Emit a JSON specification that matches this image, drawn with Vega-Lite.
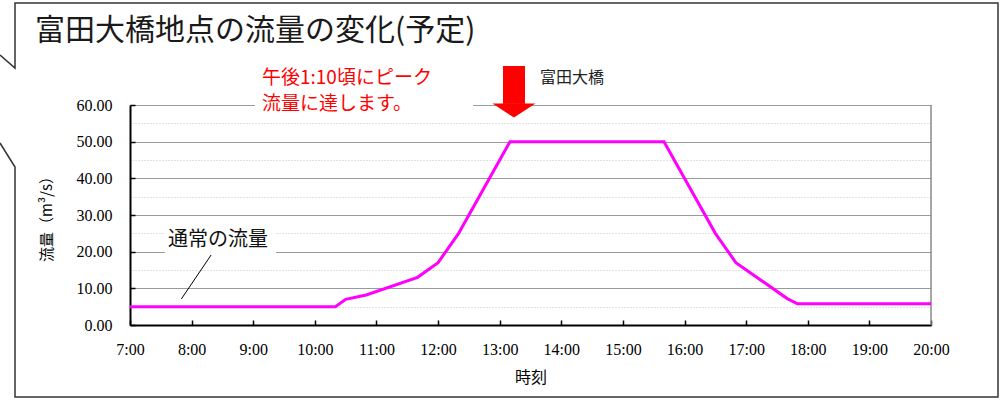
{
  "$schema": "https://vega.github.io/schema/vega-lite/v6.json",
  "width": 801,
  "height": 220,
  "autosize": {"type": "none"},
  "padding": {"left": 130, "top": 105, "right": 69, "bottom": 80},
  "background": "white",
  "datasets": {
    "flow": [
      {"hour": 7.0, "value": 5.0},
      {"hour": 10.3333, "value": 5.0},
      {"hour": 10.5, "value": 7.0},
      {"hour": 10.8333, "value": 8.2},
      {"hour": 11.6667, "value": 13.0},
      {"hour": 12.0, "value": 17.0},
      {"hour": 12.3333, "value": 25.0},
      {"hour": 13.1667, "value": 50.0},
      {"hour": 15.6667, "value": 50.0},
      {"hour": 16.5, "value": 25.0},
      {"hour": 16.8333, "value": 17.0},
      {"hour": 17.6667, "value": 7.2},
      {"hour": 17.8333, "value": 5.8},
      {"hour": 20.0, "value": 5.8}
    ],
    "frame": [
      {"order": 1, "hour": 4.8901, "value": 73.64},
      {"order": 2, "hour": 5.1336, "value": 70.09},
      {"order": 3, "hour": 5.1336, "value": 87.82},
      {"order": 4, "hour": 21.0875, "value": 87.82},
      {"order": 5, "hour": 21.0875, "value": -19.64},
      {"order": 6, "hour": 5.1336, "value": -19.64},
      {"order": 7, "hour": 5.1336, "value": 43.09},
      {"order": 8, "hour": 4.8901, "value": 49.64}
    ],
    "rightBorder": [
      {"hour": 20.0, "value": 0, "value2": 60}
    ],
    "boxes": [
      {"hour": 7.568, "hour2": 9.3696, "value": 19.3, "value2": 27.5},
      {"hour": 9.0287, "hour2": 12.567, "value": 59.0, "value2": 62.0}
    ],
    "leader": [
      {"order": 1, "hour": 7.8333, "value": 7.1},
      {"order": 2, "hour": 8.3167, "value": 19.1}
    ],
    "titleText": [
      {"hour": 5.4582, "value": 80.05, "text": "富田大橋地点の流量の変化(予定)"}
    ],
    "normalText": [
      {"hour": 7.617, "value": 23.18, "text": "通常の流量"}
    ],
    "peakText": [
      {"hour": 9.142, "value": 67.36, "text": "午後1:10頃にピーク"},
      {"hour": 9.142, "value": 60.27, "text": "流量に達します。"}
    ],
    "bridgeText": [
      {"hour": 13.654, "value": 67.36, "text": "富田大橋"}
    ],
    "arrowShaft": [
      {"hour": 13.232, "value": 60.3, "value2": 70.64}
    ],
    "arrowHead": [
      {"hour": 13.232, "value": 58.5}
    ]
  },
  "layer": [
    {
      "data": {"name": "flow"},
      "mark": {"type": "line", "color": "#ff00ff", "strokeWidth": 3, "opacity": 0},
      "encoding": {
        "x": {
          "field": "hour",
          "type": "quantitative",
          "scale": {"domain": [7, 20], "nice": false, "zero": false},
          "axis": {
            "title": "時刻",
            "titleFont": "Noto Sans CJK JP",
            "titleFontSize": 16,
            "titleFontWeight": "normal",
            "titleColor": "#000",
            "titlePadding": 12,
            "values": [7, 8, 9, 10, 11, 12, 13, 14, 15, 16, 17, 18, 19, 20],
            "labelExpr": "datum.value + ':00'",
            "labelFont": "Liberation Serif",
            "labelFontSize": 16,
            "labelColor": "#000",
            "labelPadding": 21,
            "labelFlush": false,
            "labelOverlap": false,
            "grid": false,
            "domainColor": "#000",
            "domainWidth": 2,
            "tickColor": "#000",
            "tickWidth": 1.5,
            "tickSize": -5
          }
        },
        "y": {
          "field": "value",
          "type": "quantitative",
          "scale": {"domain": [0, 60], "nice": false, "zero": true},
          "axis": {
            "orient": "left",
            "title": "流量（m³/s）",
            "titleFont": "Noto Sans CJK JP",
            "titleFontSize": 15,
            "titleFontWeight": "normal",
            "titleColor": "#000",
            "titlePadding": 22,
            "values": [0, 10, 20, 30, 40, 50, 60],
            "format": ".2f",
            "labelFont": "Liberation Serif",
            "labelFontSize": 16,
            "labelColor": "#000",
            "labelPadding": 23,
            "labelFlush": false,
            "labelOverlap": false,
            "domainColor": "#000",
            "domainWidth": 2,
            "tickColor": "#000",
            "tickWidth": 1.5,
            "tickSize": -5,
            "grid": true,
            "gridColor": "#9a9a9a",
            "gridWidth": 1
          }
        }
      }
    },
    {
      "data": {"name": "flow"},
      "mark": {"type": "line", "opacity": 0},
      "encoding": {
        "x": {"field": "hour", "type": "quantitative"},
        "y": {
          "field": "value",
          "type": "quantitative",
          "axis": {
            "orient": "right",
            "title": null,
            "values": [5, 15, 25, 35, 45, 55],
            "labels": false,
            "ticks": false,
            "domain": false,
            "grid": true,
            "gridColor": "#c4c4c4",
            "gridDash": [1, 2],
            "gridWidth": 1
          }
        }
      }
    },
    {
      "data": {"name": "frame"},
      "mark": {"type": "line", "color": "#333", "strokeWidth": 1.5, "clip": false},
      "encoding": {
        "x": {"field": "hour", "type": "quantitative"},
        "y": {"field": "value", "type": "quantitative", "axis": null},
        "order": {"field": "order", "type": "quantitative"}
      }
    },
    {
      "data": {"name": "rightBorder"},
      "mark": {"type": "rule", "color": "#8a8a8a", "strokeWidth": 1.5, "clip": false},
      "encoding": {
        "x": {"field": "hour", "type": "quantitative"},
        "y": {"field": "value", "type": "quantitative", "axis": null},
        "y2": {"field": "value2"}
      }
    },
    {
      "data": {"name": "boxes"},
      "mark": {"type": "rect", "color": "white", "opacity": 1, "clip": false},
      "encoding": {
        "x": {"field": "hour", "type": "quantitative"},
        "x2": {"field": "hour2"},
        "y": {"field": "value", "type": "quantitative", "axis": null},
        "y2": {"field": "value2"}
      }
    },
    {
      "data": {"name": "flow"},
      "mark": {"type": "line", "color": "#ff00ff", "strokeWidth": 3, "clip": false},
      "encoding": {
        "x": {"field": "hour", "type": "quantitative"},
        "y": {"field": "value", "type": "quantitative", "axis": null}
      }
    },
    {
      "data": {"name": "leader"},
      "mark": {"type": "line", "color": "#000", "strokeWidth": 1, "clip": false},
      "encoding": {
        "x": {"field": "hour", "type": "quantitative"},
        "y": {"field": "value", "type": "quantitative", "axis": null},
        "order": {"field": "order", "type": "quantitative"}
      }
    },
    {
      "data": {"name": "titleText"},
      "mark": {"type": "text", "font": "Noto Sans CJK JP", "fontSize": 30, "color": "#1a1a1a", "align": "left", "baseline": "middle", "clip": false},
      "encoding": {
        "x": {"field": "hour", "type": "quantitative"},
        "y": {"field": "value", "type": "quantitative", "axis": null},
        "text": {"field": "text"}
      }
    },
    {
      "data": {"name": "normalText"},
      "mark": {"type": "text", "font": "Noto Sans CJK JP", "fontSize": 20, "color": "#111", "align": "left", "baseline": "middle", "clip": false},
      "encoding": {
        "x": {"field": "hour", "type": "quantitative"},
        "y": {"field": "value", "type": "quantitative", "axis": null},
        "text": {"field": "text"}
      }
    },
    {
      "data": {"name": "peakText"},
      "mark": {"type": "text", "font": "Noto Sans CJK JP", "fontSize": 19, "color": "#ff0000", "align": "left", "baseline": "middle", "clip": false},
      "encoding": {
        "x": {"field": "hour", "type": "quantitative"},
        "y": {"field": "value", "type": "quantitative", "axis": null},
        "text": {"field": "text"}
      }
    },
    {
      "data": {"name": "bridgeText"},
      "mark": {"type": "text", "font": "Noto Sans CJK JP", "fontSize": 16, "color": "#222", "align": "left", "baseline": "middle", "clip": false},
      "encoding": {
        "x": {"field": "hour", "type": "quantitative"},
        "y": {"field": "value", "type": "quantitative", "axis": null},
        "text": {"field": "text"}
      }
    },
    {
      "data": {"name": "arrowShaft"},
      "mark": {"type": "rule", "color": "#ff0000", "strokeWidth": 22, "strokeCap": "butt", "clip": false},
      "encoding": {
        "x": {"field": "hour", "type": "quantitative"},
        "y": {"field": "value", "type": "quantitative", "axis": null},
        "y2": {"field": "value2"}
      }
    },
    {
      "data": {"name": "arrowHead"},
      "mark": {"type": "point", "shape": "M-1,-0.33H1L0,0.33Z", "size": 1849, "filled": true, "color": "#ff0000", "opacity": 1, "strokeWidth": 0, "clip": false},
      "encoding": {
        "x": {"field": "hour", "type": "quantitative"},
        "y": {"field": "value", "type": "quantitative", "axis": null}
      }
    }
  ],
  "resolve": {"axis": {"y": "independent"}},
  "config": {"view": {"stroke": null}}
}
